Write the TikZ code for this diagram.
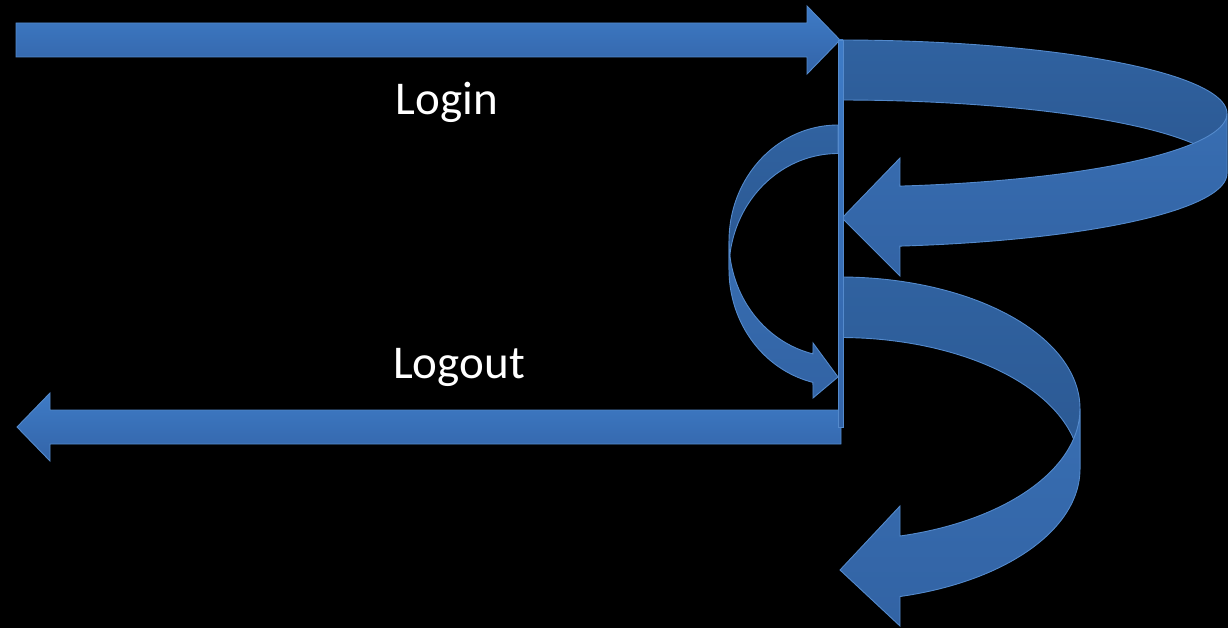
\documentclass[tikz,border=0pt]{standalone}
\usepackage{fontspec}
\setmainfont{Carlito}
\definecolor{edgeblue}{RGB}{84,138,204}
\definecolor{strtop}{RGB}{62,123,198}
\definecolor{strbot}{RGB}{51,100,168}
\definecolor{backtop}{RGB}{48,98,160}
\definecolor{backbot}{RGB}{43,88,146}
\definecolor{fronttop}{RGB}{56,110,178}
\definecolor{frontbot}{RGB}{50,99,164}
\begin{document}
\begin{tikzpicture}[x=1pt,y=-1pt,
  straightarrow/.style={draw=edgeblue,line width=0.9pt,line join=miter,top color=strtop,bottom color=strbot},
  backband/.style={draw=edgeblue,line width=0.9pt,line join=round,top color=backtop,bottom color=backbot},
  frontband/.style={draw=edgeblue,line width=0.9pt,line join=miter,top color=fronttop,bottom color=frontbot},
  label/.style={text=white,font=\fontsize{47}{56}\selectfont,inner sep=0pt,anchor=base}]
\useasboundingbox (0,0) rectangle (1228,628);
\fill[black] (0,0) rectangle (1228,628);
% upper ribbon (loops right, returns to the bar)
\path[backband] plot[domain=90:0,samples=60,variable=\t] ({840+387*cos(\t)},{113.5-73.5*sin(\t)})
  -- plot[domain=0:90,samples=60,variable=\t] ({840+387*cos(\t)},{173.5-73.5*sin(\t)}) -- cycle;
\path[frontband] plot[domain=0:-81.09,samples=60,variable=\t] ({840+387*cos(\t)},{113.5-73.5*sin(\t)})
  -- (900,158) -- (842,218) -- (900,276)
  -- plot[domain=-81.09:0,samples=60,variable=\t] ({840+387*cos(\t)},{173.5-73.5*sin(\t)}) -- cycle;
% lower ribbon (loops right and down)
\path[backband] plot[domain=90:0,samples=60,variable=\t] ({840+240*cos(\t)},{408.6-131.6*sin(\t)})
  -- plot[domain=0:90,samples=60,variable=\t] ({840+240*cos(\t)},{469.1-131.6*sin(\t)}) -- cycle;
\path[frontband] plot[domain=0:-75.52,samples=60,variable=\t] ({840+240*cos(\t)},{408.6-131.6*sin(\t)})
  -- (900,506) -- (840,570) -- (900,626)
  -- plot[domain=-75.52:0,samples=60,variable=\t] ({840+240*cos(\t)},{469.1-131.6*sin(\t)}) -- cycle;
% small left ribbon
\path[backband] plot[domain=90:180,samples=50,variable=\t] ({838+109*cos(\t)},{241-116*sin(\t)})
  -- plot[domain=180:90,samples=50,variable=\t] ({838+109*cos(\t)},{269.5-116*sin(\t)}) -- cycle;
\path[frontband] plot[domain=180:256.7,samples=50,variable=\t] ({838+109*cos(\t)},{241-116*sin(\t)})
  -- (813,343) -- (838,377) -- (813,398)
  -- plot[domain=256.7:180,samples=50,variable=\t] ({838+109*cos(\t)},{269.5-116*sin(\t)}) -- cycle;
% straight arrows
\path[straightarrow] (16,23) -- (807,23) -- (807,6) -- (840,40) -- (807,74) -- (807,57) -- (16,57) -- cycle;
\path[straightarrow] (841,410) -- (50,410) -- (50,393) -- (17,427) -- (50,461) -- (50,444) -- (841,444) -- cycle;
% vertical bar
\path[straightarrow] (838,40) rectangle (843,427);
% labels
\node[label] (login) at (447,115) {Login};
\node[label] (logout) at (459,378) {Logout};
\end{tikzpicture}
\end{document}
